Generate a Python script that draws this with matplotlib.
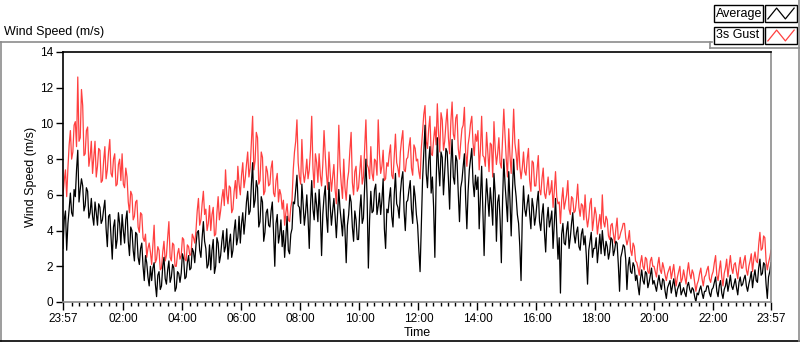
import numpy as np
import matplotlib.pyplot as plt
from matplotlib.patches import Rectangle
from matplotlib.lines import Line2D

# 2.5-minute samples, 24 per row (one hour), starting 23:57
avg = [
    3.0, 4.6, 5.1, 2.9, 4.4, 5.2, 6.1, 5.0, 4.8, 6.3, 5.9, 7.4, 8.5, 5.6, 6.3, 6.9, 6.5, 5.1, 5.4, 6.4, 6.2, 4.7, 5.0, 5.8,
    4.8, 4.3, 5.6, 5.0, 4.3, 5.5, 5.3, 4.4, 4.6, 5.2, 5.7, 4.1, 3.1, 4.8, 4.9, 3.6, 2.4, 4.2, 4.6, 3.0, 3.5, 5.0, 4.4, 3.2,
    4.9, 4.0, 3.3, 4.6, 5.1, 3.4, 2.6, 4.2, 4.0, 2.9, 2.3, 3.9, 3.8, 2.5, 2.1, 3.0, 3.3, 2.0, 1.2, 2.6, 2.2, 1.4, 0.9, 2.0,
    1.2, 1.9, 2.2, 1.0, 0.3, 1.5, 1.7, 0.7, 0.9, 2.0, 2.5, 1.3, 1.0, 1.8, 2.3, 1.1, 1.4, 2.1, 1.9, 0.6, 0.8, 1.7, 1.6, 1.1,
    1.6, 2.7, 2.4, 1.3, 1.4, 2.2, 2.6, 1.8, 1.9, 3.0, 2.8, 2.2, 3.2, 3.9, 4.0, 2.9, 2.5, 3.6, 4.5, 3.4, 3.0, 1.9, 2.1, 3.2,
    1.8, 2.9, 3.5, 1.6, 2.0, 3.6, 3.3, 2.2, 2.6, 3.4, 4.0, 2.8, 3.1, 4.1, 2.4, 3.3, 3.8, 2.5, 2.9, 4.0, 4.6, 3.2, 3.6, 4.8,
    3.3, 4.4, 5.0, 3.8, 4.6, 5.6, 6.2, 4.9, 5.1, 6.6, 7.8, 5.3, 5.7, 6.8, 6.4, 4.2, 4.5, 5.9, 5.6, 3.4, 3.9, 5.0, 5.2, 4.3,
    4.2, 5.1, 5.6, 3.9, 2.0, 4.4, 4.9, 3.3, 3.8, 4.6, 3.1, 4.0, 2.5, 3.7, 4.8, 2.9, 2.7, 3.8, 4.1, 5.6, 5.5, 6.3, 7.1, 5.4,
    5.3, 4.4, 6.6, 5.5, 4.3, 5.0, 6.0, 4.7, 3.0, 5.4, 6.8, 5.2, 4.6, 6.1, 5.4, 4.5, 6.3, 5.0, 2.6, 4.9, 5.9, 6.5, 4.8, 3.9,
    6.7, 5.4, 4.3, 5.1, 5.8, 4.8, 3.6, 5.0, 6.3, 5.2, 4.5, 3.7, 5.2, 4.0, 2.2, 4.3, 4.9, 6.0, 5.6, 4.2, 3.4, 5.1, 4.6, 3.5,
    3.5, 5.1, 6.0, 4.4, 4.7, 6.5, 8.0, 5.8, 1.9, 4.6, 6.2, 5.0, 5.1, 6.3, 6.6, 4.9, 5.4, 6.1, 4.9, 5.7, 6.9, 4.1, 3.0, 5.2,
    5.0, 5.8, 6.4, 4.8, 4.2, 6.0, 7.2, 5.5, 5.3, 4.7, 6.1, 6.9, 7.3, 5.1, 4.0, 5.6, 5.7, 6.3, 6.8, 5.2, 4.4, 6.5, 5.9, 4.9,
    4.3, 2.9, 1.7, 4.2, 6.8, 8.3, 9.9, 7.2, 6.4, 7.9, 8.7, 6.1, 7.0, 5.3, 2.5, 6.6, 9.2, 7.6, 6.5, 8.4, 8.1, 6.0, 7.3, 8.6,
    8.4, 6.9, 5.2, 7.7, 9.1, 7.0, 6.6, 8.2, 7.9, 6.1, 4.5, 6.4, 6.8, 7.6, 8.3, 5.8, 4.1, 6.2, 7.4, 8.0, 8.6, 6.7, 5.9, 7.1,
    6.3, 7.0, 4.1, 5.9, 7.6, 5.0, 2.6, 5.3, 6.9, 5.8, 4.8, 6.4, 5.5, 4.3, 7.2, 6.1, 3.4, 5.6, 6.0, 4.6, 2.2, 5.7, 8.0, 6.6,
    5.6, 4.5, 7.3, 5.7, 3.7, 6.2, 8.0, 6.6, 5.9, 4.9, 4.4, 3.1, 1.2, 4.7, 6.5, 5.2, 4.8, 5.5, 6.0, 4.9, 4.1, 5.8, 5.3, 4.3,
    4.8, 5.6, 6.2, 4.5, 4.0, 4.9, 5.5, 3.9, 2.8, 4.6, 5.3, 4.2, 4.6, 5.1, 3.0, 4.4, 5.8, 4.0, 2.4, 3.6, 0.5, 3.8, 4.4, 3.3,
    3.2, 4.0, 4.5, 3.0, 3.6, 4.4, 5.0, 3.8, 3.3, 3.9, 4.2, 3.1, 2.9, 3.8, 4.1, 3.2, 3.7, 2.6, 1.0, 2.9, 3.4, 3.9, 2.5, 3.0,
    3.0, 3.6, 2.2, 3.0, 3.8, 2.7, 4.0, 3.2, 2.6, 3.4, 3.1, 2.4, 2.8, 3.6, 3.5, 2.6, 2.9, 3.4, 3.3, 2.1, 0.6, 2.5, 2.8, 3.2,
    3.1, 2.4, 0.7, 2.0, 2.5, 1.7, 1.6, 2.2, 2.0, 1.2, 1.5, 0.9, 0.4, 1.3, 1.8, 1.2, 1.0, 1.7, 1.6, 0.8, 1.1, 1.5, 1.9, 1.0,
    1.2, 0.9, 0.6, 1.1, 1.5, 1.0, 0.7, 1.3, 1.2, 0.6, 0.2, 0.8, 1.0, 1.2, 0.5, 0.9, 1.3, 0.8, 0.3, 0.7, 0.9, 1.1, 0.4, 0.6,
    0.8, 0.5, 0.3, 0.9, 1.1, 0.7, 0.5, 0.8, 0.7, 0.3, 0.0, 0.5, 0.4, 0.7, 0.9, 0.5, 0.2, 0.6, 0.6, 0.9, 0.9, 0.5, 0.3, 0.7,
    0.8, 1.1, 1.4, 0.6, 0.3, 0.9, 1.2, 0.5, 0.2, 0.7, 0.9, 1.3, 0.6, 1.0, 1.5, 0.9, 0.7, 1.0, 1.3, 0.8, 0.4, 1.1, 1.4, 0.9,
    1.0, 1.3, 1.5, 0.9, 0.6, 1.0, 1.3, 1.7, 0.8, 1.4, 1.8, 1.2, 1.1, 1.9, 2.4, 1.5, 1.6, 2.2, 2.1, 1.0, 0.2, 1.4, 1.7, 2.2,
]

gust = [
    6.0, 6.8, 7.4, 5.9, 7.5, 8.8, 9.6, 8.0, 8.4, 9.9, 10.1, 8.7, 12.6, 9.0, 9.2, 11.9, 11.0, 8.2, 8.3, 9.6, 9.8, 7.6, 8.1, 9.0,
    7.2, 8.1, 9.0, 7.0, 7.6, 8.6, 8.5, 6.7, 6.8, 7.9, 8.7, 6.9, 7.4, 8.4, 9.1, 7.2, 7.0, 8.0, 8.3, 6.5, 6.6, 7.7, 8.0, 6.8,
    8.3, 6.6, 6.4, 7.5, 7.0, 5.6, 5.0, 6.2, 6.0, 4.6, 4.8, 5.6, 5.7, 4.2, 3.9, 5.0, 4.9, 3.6, 3.4, 3.8, 2.5, 3.0, 3.3, 2.8,
    2.1, 3.2, 4.3, 2.2, 2.4, 3.1, 2.9, 1.8, 1.9, 2.8, 3.4, 2.3, 2.6, 3.6, 4.5, 2.5, 2.3, 3.3, 3.2, 2.0, 2.0, 2.7, 3.0, 2.4,
    2.6, 3.6, 3.5, 2.4, 2.3, 3.2, 3.1, 2.6, 2.7, 3.8, 3.6, 3.3, 4.0, 5.1, 5.8, 4.3, 4.6, 5.5, 6.2, 4.9, 5.2, 4.0, 4.4, 5.4,
    4.0, 4.9, 5.3, 3.7, 3.8, 5.0, 5.9, 4.6, 5.1, 5.8, 6.3, 5.4, 7.4, 6.0, 5.5, 6.5, 6.4, 5.0, 5.2, 6.2, 6.8, 5.8, 7.6, 6.6,
    6.0, 7.1, 7.8, 6.4, 6.9, 7.7, 8.4, 7.0, 7.5, 8.9, 10.4, 7.4, 7.9, 9.5, 9.2, 6.6, 6.8, 8.4, 8.1, 6.0, 6.2, 7.6, 7.3, 6.5,
    6.6, 7.5, 7.9, 6.1, 5.9, 6.8, 7.2, 5.6, 6.3, 6.0, 5.2, 5.7, 4.3, 5.0, 5.5, 4.6, 4.5, 5.3, 5.7, 7.4, 8.4, 9.0, 10.2, 7.8,
    7.0, 6.6, 9.1, 7.3, 6.7, 7.2, 8.0, 6.9, 7.4, 8.5, 10.4, 7.5, 6.4, 8.3, 7.8, 6.7, 8.3, 7.1, 6.5, 7.7, 9.6, 8.2, 7.1, 6.3,
    8.4, 7.2, 6.2, 7.0, 7.7, 6.3, 5.5, 7.4, 9.9, 7.6, 6.6, 5.8, 8.0, 6.4, 5.7, 6.8, 7.3, 8.5, 9.5, 6.7, 6.0, 7.3, 7.6, 6.2,
    6.4, 7.3, 8.2, 6.6, 7.0, 8.6, 10.2, 7.7, 7.5, 6.9, 8.7, 7.2, 6.8, 8.0, 7.9, 7.1, 10.2, 8.3, 7.2, 7.6, 8.5, 6.8, 6.9, 7.8,
    7.6, 8.3, 8.8, 7.1, 6.9, 8.2, 9.4, 7.8, 7.5, 7.0, 8.4, 9.1, 9.6, 7.4, 7.3, 8.0, 8.1, 8.7, 9.2, 7.5, 7.1, 8.8, 8.6, 7.9,
    8.0, 7.3, 6.9, 8.6, 9.5, 10.5, 11.0, 9.0, 8.6, 9.7, 10.4, 8.3, 8.2, 9.1, 9.8, 8.8, 11.1, 9.4, 8.4, 10.6, 10.2, 8.5, 9.0, 10.0,
    10.8, 9.2, 8.3, 10.1, 11.2, 9.4, 9.1, 10.3, 10.5, 8.6, 8.0, 8.9, 9.7, 9.9, 10.9, 8.4, 7.6, 8.8, 9.3, 10.0, 10.4, 8.9, 8.2, 9.4,
    9.0, 9.6, 7.4, 8.5, 10.4, 8.2, 8.1, 7.6, 9.5, 8.4, 7.3, 8.9, 8.8, 7.0, 10.1, 8.6, 7.7, 8.3, 9.2, 7.8, 7.5, 9.1, 10.8, 9.3,
    8.0, 7.0, 9.7, 8.2, 7.2, 8.8, 10.8, 8.9, 8.3, 7.4, 9.1, 7.6, 6.9, 7.5, 8.4, 7.3, 7.1, 8.0, 8.6, 6.8, 6.2, 7.9, 7.8, 6.5,
    6.5, 7.4, 8.2, 6.3, 6.0, 6.9, 7.5, 6.1, 5.8, 6.4, 7.0, 6.0, 6.2, 6.8, 5.3, 6.2, 7.3, 5.9, 5.5, 5.6, 4.4, 5.7, 6.4, 5.2,
    5.6, 6.0, 6.8, 5.2, 4.9, 5.9, 5.8, 5.0, 5.1, 5.7, 6.6, 5.3, 4.8, 5.5, 5.4, 4.6, 6.0, 4.8, 4.2, 4.7, 5.5, 5.8, 4.0, 4.6,
    5.3, 4.9, 3.8, 4.4, 4.9, 4.1, 6.0, 4.5, 4.2, 4.8, 4.6, 3.7, 3.5, 4.3, 4.4, 3.8, 3.3, 4.1, 4.7, 3.5, 3.6, 3.9, 4.1, 4.4,
    4.4, 3.6, 3.2, 3.5, 4.0, 2.9, 2.6, 3.3, 3.1, 2.3, 2.2, 1.9, 1.5, 2.2, 2.6, 2.0, 1.8, 2.5, 2.4, 1.7, 1.6, 2.3, 2.5, 2.0,
    2.0, 1.7, 1.4, 2.1, 2.5, 1.8, 1.6, 2.2, 1.9, 1.5, 1.2, 1.6, 1.8, 2.0, 1.3, 1.7, 2.1, 1.4, 0.9, 1.4, 1.7, 2.0, 1.1, 1.3,
    1.8, 1.4, 1.0, 1.7, 2.2, 1.6, 1.3, 1.8, 1.6, 1.1, 0.6, 1.0, 1.2, 1.6, 1.9, 1.3, 0.9, 1.4, 1.5, 1.8, 2.0, 1.3, 1.1, 1.5,
    1.7, 2.2, 2.6, 1.5, 1.2, 1.8, 2.3, 1.4, 0.9, 1.6, 1.9, 2.4, 1.4, 2.0, 2.6, 1.9, 1.6, 2.1, 2.2, 1.7, 1.3, 2.0, 2.5, 1.9,
    1.9, 2.3, 2.6, 1.8, 1.5, 2.0, 2.3, 2.7, 1.7, 2.4, 2.8, 2.3, 2.2, 3.2, 3.9, 2.9, 3.0, 3.7, 3.6, 2.3, 1.8, 2.2, 2.5, 2.9,
]

tick_minutes = [0, 123, 243, 363, 483, 603, 723, 843, 963, 1083, 1203, 1323, 1440]
tick_labels = ['23:57', '02:00', '04:00', '06:00', '08:00', '10:00', '12:00',
               '14:00', '16:00', '18:00', '20:00', '22:00', '23:57']

W, H = 800, 342
RED = '#ff4040'
GRAY = '#8c8c8c'
plt.rcParams['font.family'] = ['Liberation Sans', 'DejaVu Sans']


def fx(x):
    return x / W


def fy(y):
    return 1 - y / H


t = np.arange(len(avg)) * 1440.0 / (len(avg) - 1)

fig = plt.figure(figsize=(W / 100, H / 100), dpi=100)
fig.patch.set_facecolor('white')

ax = fig.add_axes([fx(63), fy(302), fx(771) - fx(63), fy(52) - fy(302)])
ax.plot(t, gust, color=RED, lw=0.9)
ax.plot(t, avg, color='black', lw=0.9)

ax.set_xlim(0, 1440)
ax.set_ylim(0, 14)
ax.set_yticks(range(0, 15, 2))
ax.set_xticks(tick_minutes)
ax.set_xticklabels(tick_labels)
minor = [m for m in range(18, 1440, 15) if m not in tick_minutes]
ax.set_xticks(minor, minor=True)
ax.tick_params(axis='both', labelsize=8.5, colors='black', width=1)
ax.tick_params(axis='x', which='major', length=6, pad=2)
ax.tick_params(axis='x', which='minor', length=3, width=1)
ax.tick_params(axis='y', length=5, pad=2)
for s in ['top', 'left']:
    ax.spines[s].set_color('black')
for s in ['bottom', 'right']:
    ax.spines[s].set_color(GRAY)
for s in ax.spines.values():
    s.set_linewidth(1.2)

ax.set_xlabel('Time', fontsize=9, labelpad=1)
ax.set_ylabel('Wind Speed (m/s)', fontsize=9, labelpad=2)

# outer frame, LabVIEW style
fig.add_artist(Line2D([0, fx(712)], [fy(42), fy(42)], color=GRAY, lw=1.2))
fig.add_artist(Line2D([fx(0.5), fx(0.5)], [fy(42), fy(341)], color=GRAY, lw=1.2))
fig.add_artist(Line2D([0, 1], [fy(340.5), fy(340.5)], color='black', lw=1.2))
fig.add_artist(Line2D([fx(798.5), fx(798.5)], [fy(0), fy(341)], color=GRAY, lw=1.2))
fig.add_artist(Line2D([fx(710), fx(800)], [fy(48), fy(48)], color=GRAY, lw=1.2))
fig.add_artist(Line2D([fx(710), fx(710)], [fy(42), fy(48)], color=GRAY, lw=1.2))
fig.text(fx(4), fy(32), 'Wind Speed (m/s)', fontsize=9, va='center', ha='left')

# legend
for i, (name, col) in enumerate([('Average', 'black'), ('3s Gust', RED)]):
    y0 = 5 + 22 * i
    fig.add_artist(Rectangle((fx(714), fy(y0 + 17)), fx(49), fy(y0) - fy(y0 + 17),
                             fill=False, ec='black', lw=1.0))
    fig.text(fx(716), fy(y0 + 8.5), name, fontsize=9, va='center', ha='left')
    fig.add_artist(Rectangle((fx(765), fy(y0 + 17)), fx(32), fy(y0) - fy(y0 + 17),
                             fill=False, ec='black', lw=1.0))
    iax = fig.add_axes([fx(767), fy(y0 + 15), fx(28), fy(y0 + 2) - fy(y0 + 15)])
    iax.plot([0, 1, 2, 3], [0, 1, 0, 1], color=col, lw=0.9)
    iax.set_xlim(-0.1, 3.1)
    iax.set_ylim(-0.1, 1.1)
    iax.axis('off')

fig.savefig('out.png', dpi=100, facecolor='white')
